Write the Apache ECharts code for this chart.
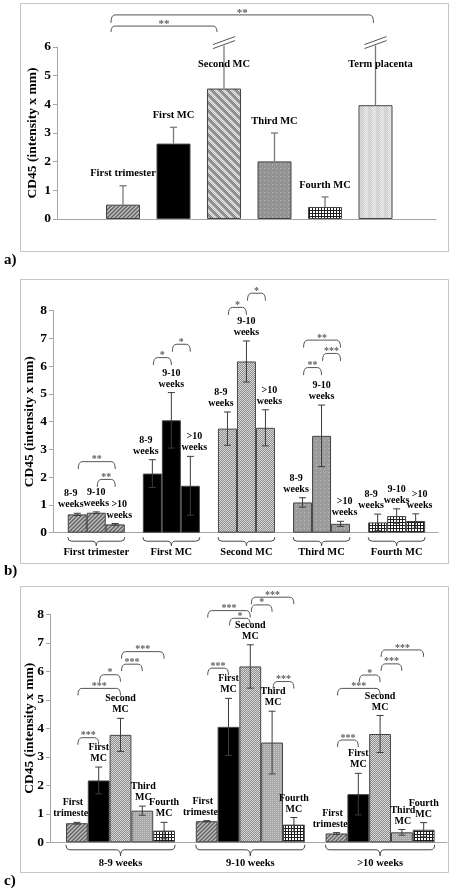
<!DOCTYPE html>
<html><head><meta charset="utf-8">
<script src="https://cdn.jsdelivr.net/npm/echarts@6/dist/echarts.min.js"></script>
<style>html,body{margin:0;padding:0;background:#fff}#c{width:453px;height:891px}</style>
</head><body><div id="c"></div>
<script>
// ================= DATA =================
// Panel a
const catsA = ['First trimester', 'First MC', 'Second MC', 'Third MC', 'Fourth MC', 'Term placenta'];
const valsA = [0.50, 2.63, 4.55, 2.01, 0.42, 3.97];
const errA = [0.66, 0.57, 1.50, 0.99, 0.35, 2.08];
const brokenA = [0, 0, 1, 0, 0, 1];
const sigA = [[0, 2, '**'], [0, 5, '**']];
const yTicksA = [0, 6, 1];

// Panel b
const groupsB = ['First trimester', 'First MC', 'Second MC', 'Third MC', 'Fourth MC'];
const weekNamesB = ['8-9\nweeks', '9-10\nweeks', '>10\nweeks'];
const b_8_9 = [0.66, 2.13, 3.75, 1.09, 0.37];
const b_9_10 = [0.72, 4.05, 6.17, 3.49, 0.60];
const b_gt10 = [0.30, 1.69, 3.78, 0.32, 0.42];
const eb_8_9 = [0.04, 0.50, 0.60, 0.17, 0.30];
const eb_9_10 = [0.03, 1.00, 0.74, 1.11, 0.26];
const eb_gt10 = [0.03, 1.06, 0.65, 0.09, 0.26];
const sigB = [[0, 0, 2, '**'], [0, 1, 2, '**'], [1, 0, 1, '*'], [1, 1, 2, '*'], [2, 0, 1, '*'], [2, 1, 2, '*'], [3, 0, 2, '**'], [3, 1, 2, '***'], [3, 0, 1, '**']];
const yTicksB = [0, 8, 1];

// Panel c
const weeksC = ['8-9 weeks', '9-10 weeks', '>10 weeks'];
const tissuesC = ['First\ntrimester', 'First\nMC', 'Second\nMC', 'Third\nMC', 'Fourth\nMC'];
const c_ft = [0.67, 0.74, 0.31];
const c_fmc = [2.17, 4.05, 1.69];
const c_smc = [3.77, 6.17, 3.80];
const c_tmc = [1.11, 3.50, 0.35];
const c_fomc = [0.41, 0.62, 0.44];
const ec_ft = [0.03, 0.02, 0.03];
const ec_fmc = [0.47, 1.00, 0.73];
const ec_smc = [0.58, 0.76, 0.65];
const ec_tmc = [0.16, 1.10, 0.10];
const ec_fomc = [0.29, 0.25, 0.25];
const sigC = [[0, 0, 1, '***'], [0, 0, 2, '***'], [0, 1, 2, '*'], [0, 2, 3, '***'], [0, 2, 4, '***'],
  [1, 0, 1, '***'], [1, 0, 2, '***'], [1, 1, 2, '*'], [1, 2, 3, '*'], [1, 2, 4, '***'], [1, 3, 4, '***'],
  [2, 0, 1, '***'], [2, 0, 2, '***'], [2, 1, 2, '*'], [2, 2, 3, '***'], [2, 2, 4, '***']];
const yTicksC = [0, 8, 1];

// ================= LAYOUT (annotation heights, in axis units) =================
const levelA = [6.73, 7.12];
const levelB = [2.56, 1.92, 6.31, 6.79, 8.12, 8.63, 6.94, 6.46, 5.95];
const levelC = [3.67, 5.40, 5.88, 6.25, 6.69, 6.11, 8.13, 7.86, 8.33, 8.60, 5.64, 3.59, 5.40, 5.87, 6.26, 6.75];

// ================= STYLE =================
const FONT = '"Liberation Serif", "Times New Roman", serif';
function pat(w, h, fn) {
  const cv = document.createElement('canvas'); cv.width = w; cv.height = h;
  const ctx = cv.getContext('2d');
  for (let y = 0; y < h; y++) for (let x = 0; x < w; x++) { ctx.fillStyle = fn(x, y); ctx.fillRect(x, y, 1, 1); }
  return { image: cv, repeat: 'repeat' };
}
const P_ft = pat(4, 4, (x, y) => { const c = (x + y) % 2; const d = (x + y) % 4 === 0; return d ? '#666666' : (c ? '#8c8c8c' : '#c6c6c6'); });
const P_smcA = pat(8, 8, (x, y) => { const d = ((x - y) % 8 + 8) % 8; const c = (x + y) % 2; return d < 4 ? (c ? '#7c7c7c' : '#a4a4a4') : (c ? '#c4c4c4' : '#e2e2e2'); });
const P_smc = pat(2, 2, (x, y) => ((x + y) % 2 ? '#8e8e8e' : '#d8d8d8'));
const P_tmcA = pat(4, 4, (x, y) => ((x % 4 === 0 && y % 4 === 0) ? '#b8b8b8' : '#939393'));
const P_tmcB = pat(4, 4, (x, y) => ((x % 4 === 0 && y % 4 === 0) ? '#bcbcbc' : '#9c9c9c'));
const P_tmcC = pat(4, 4, (x, y) => ((x % 2 === 0 && y % 2 === 0) ? '#c8c8c8' : '#a8a8a8'));
const P_grid = pat(3, 3, (x, y) => ((x % 3 === 0 || y % 3 === 0) ? '#1e1e1e' : '#ffffff'));
const P_tp = pat(8, 2, (x, y) => { const c = (x + y) % 2; return x % 8 < 4 ? (c ? '#c4c4c4' : '#e4e4e4') : (c ? '#d2d2d2' : '#f0f0f0'); });
const patA = [P_ft, '#000', P_smcA, P_tmcA, P_grid, P_tp];
const patB = [P_ft, '#000', P_smc, P_tmcB, P_grid];
const patC = [P_ft, '#000', P_smc, P_tmcC, P_grid];

const AXC = '#a6a6a6';
const G = {
  aAx: { left: 57, top: 47, width: 379, height: 172 },
  aBar: { left: 97.75, top: 47, width: 303, height: 172 },
  bAx: { left: 53, top: 310.7, width: 385, height: 222 },
  bBar: { left: 58.7, top: 310.7, width: 375.5, height: 222 },
  cAx: { left: 50, top: 614.3, width: 397, height: 228 },
  cBar: { left: 55.6, top: 614.3, width: 389.4, height: 228 }
};
const BW_A = 34, BW_B = 19, BW_C = 21.8;

function axesX(gi) {
  return { gridIndex: gi, type: 'value', min: 0, max: 1, axisLine: { show: true, lineStyle: { color: AXC, width: 1 } }, axisTick: { show: false }, axisLabel: { show: false }, splitLine: { show: false } };
}
function axesY(gi, t, nameGap) {
  return { gridIndex: gi, type: 'value', min: t[0], max: t[1], interval: t[2],
    axisLine: { show: true, lineStyle: { color: AXC, width: 1 } },
    axisTick: { show: true, length: 4, lineStyle: { color: AXC } },
    axisLabel: { color: '#000', fontFamily: FONT, fontWeight: 'bold', fontSize: 13.5, margin: 6 },
    splitLine: { show: false },
    name: 'CD45 (intensity x mm)', nameLocation: 'middle', nameGap: nameGap, nameMoveOverlap: false,
    nameTextStyle: { color: '#000', fontFamily: FONT, fontWeight: 'bold', fontSize: 13.5 } };
}
function barsX(gi, cats, showLabels, margin, fs) {
  return { gridIndex: gi, type: 'category', data: cats, boundaryGap: true,
    axisLine: { show: false }, axisTick: { show: false },
    axisLabel: { show: showLabels, interval: 0, margin: margin, color: '#000', fontFamily: FONT, fontWeight: 'bold', fontSize: fs },
    splitLine: { show: false } };
}
function barsY(gi, t) {
  return { gridIndex: gi, type: 'value', min: t[0], max: t[1], interval: t[2], show: false, splitLine: { show: false } };
}

const txt = (text, x, y, fs, va, color) => ({ type: 'text', style: { text, x, y, align: 'center', verticalAlign: va, fontFamily: FONT, fontWeight: 'bold', fontSize: fs, lineHeight: fs + 1, fill: color || '#000' } });
const ln = (x1, y1, x2, y2, color, w) => ({ type: 'line', shape: { x1, y1, x2, y2 }, style: { stroke: color, lineWidth: w || 1 } });
const qc = (x1, y1, cx, cy, x2, y2, color, w) => ({ type: 'bezierCurve', shape: { x1, y1, cpx1: cx, cpy1: cy, x2, y2 }, style: { stroke: color, lineWidth: w || 1, fill: null } });

function bracket(x1, x2, y, drop, label, color, fs) {
  const r = 4;
  return [qc(x1, y + drop, x1, y, x1 + r, y, color), ln(x1 + r, y, x2 - r, y, color), qc(x2 - r, y, x2, y, x2, y + drop, color),
    txt(label, (x1 + x2) / 2, y - 2, fs, 'middle', '#606060')];
}
function brace(xL, xR, y0, h1, h2, color) {
  const r = 4, xc = (xL + xR) / 2;
  return [qc(xL, y0, xL, y0 + h1, xL + r, y0 + h1, color), ln(xL + r, y0 + h1, xc - r, y0 + h1, color),
    qc(xc - r, y0 + h1, xc, y0 + h1, xc, y0 + h2, color), qc(xc, y0 + h2, xc, y0 + h1, xc + r, y0 + h1, color),
    ln(xc + r, y0 + h1, xR - r, y0 + h1, color), qc(xR - r, y0 + h1, xR, y0 + h1, xR, y0, color)];
}

// ================= SERIES =================
const series = [];
// Panel a bars
series.push({ type: 'bar', xAxisIndex: 1, yAxisIndex: 1, barWidth: BW_A, z: 2,
  data: valsA.map((v, i) => ({ value: v, itemStyle: { color: patA[i], borderColor: '#444', borderWidth: 1 } })) });
// Panel a error bars + labels
series.push({ type: 'custom', xAxisIndex: 1, yAxisIndex: 1, z: 4, encode: { x: 0, y: 1 },
  data: valsA.map((v, i) => [i, v, errA[i], brokenA[i]]),
  renderItem: function (p, api) {
    const i = api.value(0), v = api.value(1), e = api.value(2), br = api.value(3);
    const b = api.coord([i, v]), t = api.coord([i, v + e]);
    const col = '#7a7a7a', ch = [ln(b[0], b[1], t[0], t[1], col, 1.3)];
    if (br) {
      ch.push(ln(t[0] - 11, t[1] - 1, t[0] + 11, t[1] - 9, '#555', 1));
      ch.push(ln(t[0] - 11, t[1] + 3, t[0] + 11, t[1] - 5, '#555', 1));
      ch.push(txt(catsA[i], t[0] + (i === 5 ? 5 : 0), api.coord([i, yTicksA[1]])[1] + 17, 10.5, 'middle'));
    } else {
      ch.push(ln(t[0] - 3.5, t[1], t[0] + 3.5, t[1], col, 1.3));
      ch.push(txt(catsA[i], t[0], t[1] - 12, 10.5, 'middle'));
    }
    return { type: 'group', children: ch };
  } });
// Panel a significance brackets
series.push({ type: 'custom', xAxisIndex: 1, yAxisIndex: 1, z: 4, encode: { x: 0, y: 1 },
  data: sigA.map((s, k) => [s[0], levelA[k]]),
  renderItem: function (p, api) {
    const s = sigA[p.dataIndex], y = api.coord([0, api.value(1)])[1];
    const x1 = api.coord([s[0], 0])[0] - 12, x2 = api.coord([s[1], 0])[0] - (s[1] === 5 ? 2 : 7);
    return { type: 'group', children: bracket(x1, x2, y, p.dataIndex === 0 ? 6 : 8, s[2], '#555', 11) };
  } });

// Panel b bars
const valsB = [b_8_9, b_9_10, b_gt10], errsB = [eb_8_9, eb_9_10, eb_gt10];
valsB.forEach((arr, k) => {
  series.push({ type: 'bar', xAxisIndex: 3, yAxisIndex: 3, barWidth: BW_B, barGap: '0%', z: 2,
    data: arr.map((v, g) => ({ value: v, itemStyle: { color: patB[g], borderColor: '#444', borderWidth: 1 } })) });
});
const labelDxB = [-6.5, 0, 4];
function errRender(nBars, bw, labels, labelDx, fs) {
  return function (p, api) {
    const g = api.value(0), k = api.value(1), v = api.value(2), e = api.value(3);
    const c = api.coord([g, v]);
    const x = c[0] + (k - (nBars - 1) / 2) * bw;
    const yt = api.coord([g, v + e])[1], yb = api.coord([g, v - e])[1];
    const col = '#3c3c3c';
    return { type: 'group', children: [
      ln(x, yb, x, yt, col, 1), ln(x - 3.5, yt, x + 3.5, yt, col, 1), ln(x - 3.5, yb, x + 3.5, yb, col, 1),
      txt(labels[k], x + labelDx[k], yt - 3, fs, 'bottom')] };
  };
}
const errDataB = [];
valsB.forEach((arr, k) => arr.forEach((v, g) => errDataB.push([g, k, v, errsB[k][g]])));
series.push({ type: 'custom', xAxisIndex: 3, yAxisIndex: 3, z: 4, encode: { x: 0, y: 2 }, data: errDataB,
  renderItem: errRender(3, BW_B, weekNamesB, labelDxB, 10) });
function bracketRender(sig, nBars, bw, drop, levels) {
  return function (p, api) {
    const s = sig[p.dataIndex];
    const c = api.coord([s[0], levels[p.dataIndex]]);
    const x1 = c[0] + (s[1] - (nBars - 1) / 2) * bw + 1, x2 = c[0] + (s[2] - (nBars - 1) / 2) * bw;
    return { type: 'group', children: bracket(x1, x2, c[1], drop, s[3], '#555', 10) };
  };
}
series.push({ type: 'custom', xAxisIndex: 3, yAxisIndex: 3, z: 4, encode: { x: 0, y: 1 },
  data: sigB.map((s, k) => [s[0], levelB[k]]), renderItem: bracketRender(sigB, 3, BW_B, 7.5, levelB) });
function braceRender(nBars, bw, dy, h1, h2) {
  return function (p, api) {
    const c = api.coord([api.value(0), 0]);
    const half = nBars * bw / 2;
    return { type: 'group', children: brace(c[0] - half, c[0] + half, c[1] + dy, h1, h2, '#444') };
  };
}
series.push({ type: 'custom', xAxisIndex: 3, yAxisIndex: 3, z: 4, encode: { x: 0, y: 1 },
  data: groupsB.map((g, i) => [i, 0]), renderItem: braceRender(3, BW_B, 4.5, 4, 8.5) });

// Panel c bars
const valsC = [c_ft, c_fmc, c_smc, c_tmc, c_fomc], errsC = [ec_ft, ec_fmc, ec_smc, ec_tmc, ec_fomc];
valsC.forEach((arr, s) => {
  series.push({ type: 'bar', xAxisIndex: 5, yAxisIndex: 5, barWidth: BW_C, barGap: '0%', z: 2,
    itemStyle: { color: patC[s], borderColor: '#444', borderWidth: 1 }, data: arr.slice() });
});
const labelDxC = [-4, 0, 0, 1, 0];
const errDataC = [];
valsC.forEach((arr, s) => arr.forEach((v, g) => errDataC.push([g, s, v, errsC[s][g]])));
series.push({ type: 'custom', xAxisIndex: 5, yAxisIndex: 5, z: 4, encode: { x: 0, y: 2 }, data: errDataC,
  renderItem: errRender(5, BW_C, tissuesC, labelDxC, 10) });
series.push({ type: 'custom', xAxisIndex: 5, yAxisIndex: 5, z: 4, encode: { x: 0, y: 1 },
  data: sigC.map((s, k) => [s[0], levelC[k]]), renderItem: bracketRender(sigC, 5, BW_C, 7, levelC) });
series.push({ type: 'custom', xAxisIndex: 5, yAxisIndex: 5, z: 4, encode: { x: 0, y: 1 },
  data: weeksC.map((g, i) => [i, 0]), renderItem: braceRender(5, BW_C, 2.5, 5, 11) });

// ================= OPTION =================
const box = (y, h) => ({ type: 'rect', shape: { x: 20.5, y: y + 0.5, width: 428, height: h }, style: { fill: null, stroke: '#c4c4c4', lineWidth: 1 }, z: 0 });
const plab = (t, y) => ({ type: 'text', left: 4, top: y - 9, style: { text: t, fontFamily: FONT, fontWeight: 'bold', fontSize: 15, fill: '#000' } });

const option = {
  backgroundColor: '#fff',
  animation: false,
  grid: [G.aAx, G.aBar, G.bAx, G.bBar, G.cAx, G.cBar].map(g => Object.assign({ containLabel: false, outerBoundsMode: 'none' }, g)),
  xAxis: [axesX(0), barsX(1, catsA, false, 0, 10), axesX(2), barsX(3, groupsB, true, 14, 10.5), axesX(4), barsX(5, weeksC, true, 15, 10.5)],
  yAxis: [axesY(0, yTicksA, 17), barsY(1, yTicksA), axesY(2, yTicksB, 16), barsY(3, yTicksB), axesY(4, yTicksC, 13), barsY(5, yTicksC)],
  graphic: [box(3, 248), box(279, 284), box(586, 286), plab('a)', 262), plab('b)', 573), plab('c)', 883)],
  series: series
};
const chart = echarts.init(document.getElementById('c'));
chart.setOption(option);
</script>
</body></html>
